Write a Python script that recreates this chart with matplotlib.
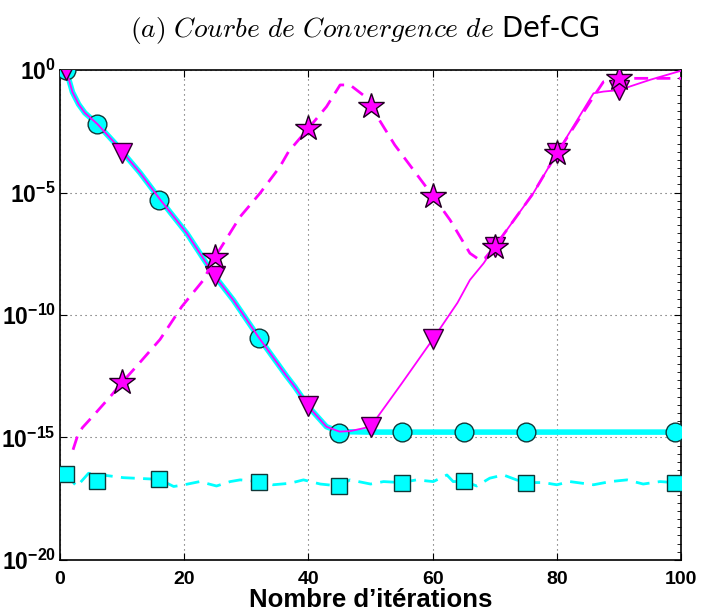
import numpy as np
import matplotlib
matplotlib.use("Agg")
import matplotlib.pyplot as plt
from matplotlib.ticker import FixedLocator, FuncFormatter

plt.rcParams['font.family'] = ['Liberation Sans', 'DejaVu Sans']
plt.rcParams['mathtext.fontset'] = 'custom'
plt.rcParams['mathtext.bf'] = 'Liberation Sans:bold'
plt.rcParams['mathtext.rm'] = 'Liberation Sans:bold'

# residual curves, exponents of 10
cg_it = [1, 2, 3, 4, 6, 8.9, 12.9, 16.1, 20.4, 25, 27.9, 31.9, 36.5, 37.8, 40, 42.9, 45,
         50, 60, 70, 80, 90, 100]
cg_exp = [0, -0.9, -1.4, -1.75, -2.2, -3.0, -4.2, -5.28, -6.66, -8.44, -9.39, -10.88, -12.5,
          -12.93, -13.74, -14.56, -14.76, -14.78, -14.78, -14.78, -14.78, -14.78, -14.78]
cg_mk_it = [1, 6, 16, 32, 45, 55, 65, 75, 99]
cg_mk_exp = [0, -2.2, -5.3, -10.94, -14.8, -14.78, -14.78, -14.78, -14.78]

def_it = [1, 2, 3, 4, 6, 8.9, 12.9, 16.1, 20.4, 25, 27.9, 31.9, 36.5, 37.8, 40, 42.9, 45,
          46.7, 50, 55, 60, 64, 66, 68.2, 70, 76.2, 80, 85.9, 87.5, 90, 95, 100]
def_exp = [0, -0.9, -1.4, -1.75, -2.2, -3.0, -4.2, -5.28, -6.66, -8.44, -9.39, -10.88, -12.5,
           -12.93, -13.74, -14.56, -14.76, -14.74, -14.56, -12.8, -11.0, -9.5, -8.57, -7.89,
           -7.21, -5.03, -3.4, -0.95, -0.88, -0.82, -0.4, -0.03]
def_mk_it = [1, 10, 25, 40, 50, 60, 70, 80, 90]
def_mk_exp = [0, -3.4, -8.4, -13.7, -14.56, -11.0, -7.22, -3.4, -0.82]

err_it = [2.1, 2.8, 3.6, 5.4, 8.3, 10, 12.3, 16.1, 19.6, 23.1, 25, 29, 32.2, 35.4, 36.8, 40,
          42.9, 45.1, 46.7, 48.8, 50, 53.9, 60, 62.8, 66, 67.6, 68.4, 70, 76.2, 80, 85.9,
          87.5, 90, 95, 100]
err_exp = [-15.5, -14.95, -14.6, -14.1, -13.27, -12.75, -12.1, -11.0, -9.66, -8.57, -7.62,
           -5.99, -5.03, -3.95, -3.33, -2.38, -1.5, -0.61, -0.61, -1.02, -1.46, -3.06, -5.13,
           -6.12, -7.48, -7.76, -7.69, -7.21, -5.03, -3.4, -1.09, -0.48, -0.34, -0.34, -0.34]
err_mk_it = [10, 25, 40, 50, 60, 70, 80, 90]
err_mk_exp = [-12.75, -7.62, -2.38, -1.46, -5.13, -7.21, -3.4, -0.34]

ortho_it = [1, 2.7, 4.6, 10.2, 16, 18.3, 20, 22.5, 25.2, 27.4, 29, 32, 34.3, 37, 39.2, 41.9,
            45, 46.7, 50, 52.1, 55, 57.4, 60.1, 62.3, 63.3, 65, 67.1, 69.2, 71.4, 73.5, 75,
            77.8, 80, 82.1, 85.9, 88.6, 91.3, 93.9, 96.6, 99, 100]
ortho_exp = [-16.49, -17.0, -16.46, -16.64, -16.71, -17.0, -16.93, -16.8, -16.98, -16.8,
             -16.73, -16.8, -16.93, -16.87, -16.73, -16.9, -16.98, -16.73, -16.9, -16.8,
             -16.84, -16.73, -16.8, -16.53, -16.8, -16.78, -16.98, -16.66, -16.53, -16.73,
             -16.84, -16.84, -16.93, -16.8, -16.93, -16.8, -16.73, -16.9, -16.8, -16.84, -16.84]
ortho_mk_it = [1, 6, 16, 32, 45, 55, 65, 75, 99]
ortho_mk_exp = [-16.49, -16.76, -16.71, -16.8, -16.98, -16.84, -16.78, -16.84, -16.84]

def p10(e):
    return 10.0 ** np.array(e)

fig = plt.figure(figsize=(7.01, 6.12), dpi=100)
ax = fig.add_axes([0.0856, 0.085, 0.886, 0.8006])

cyan = '#00ffff'
mag = '#ff00ff'
dash = (0, (5, 3))

# CG residual
ax.plot(cg_it, p10(cg_exp), color=cyan, lw=4, zorder=3)
ax.plot(cg_mk_it, p10(cg_mk_exp), ls='none', marker='o', ms=13.5, mfc=cyan, mec='#103838',
        mew=1.0, zorder=3)
# Def-CG residual
ax.plot(def_it, p10(def_exp), color=mag, lw=1.3, zorder=4)
ax.plot(def_mk_it, p10(def_mk_exp), ls='none', marker='v', ms=14, mfc=mag, mec='#300030',
        mew=1.0, zorder=4)
# error curve
ax.plot(err_it, p10(err_exp), color=mag, lw=2, ls=dash, zorder=5)
ax.plot(err_mk_it, p10(err_mk_exp), ls='none', marker='*', ms=19, mfc=mag, mec='#200020',
        mew=1.0, zorder=5)
# loss of orthogonality
ax.plot(ortho_it, p10(ortho_exp), color=cyan, lw=2, ls=dash, zorder=3)
ax.plot(ortho_mk_it, p10(ortho_mk_exp), ls='none', marker='s', ms=11, mfc=cyan,
        mec='#103838', mew=1.0, zorder=3)

ax.set_yscale('log')
ax.set_xlim(0, 100)
ax.set_ylim(1e-20, 1)
ax.set_xticks([0, 20, 40, 60, 80, 100])
ax.yaxis.set_major_locator(FixedLocator([1e-20, 1e-15, 1e-10, 1e-5, 1]))
ax.yaxis.set_minor_locator(FixedLocator(10.0 ** np.arange(-20, 0.01, 1 / 3)))
ax.yaxis.set_major_formatter(FuncFormatter(lambda v, p: r'$\mathbf{10^{%d}}$' % round(np.log10(v))))
ax.yaxis.set_minor_formatter(FuncFormatter(lambda v, p: ''))

ax.tick_params(axis='y', which='major', direction='in', length=5, labelsize=16.5, pad=3,
               right=True)
ax.tick_params(axis='y', which='minor', direction='in', length=3, left=False, right=True)
ax.tick_params(axis='x', which='major', direction='in', length=5, labelsize=14, pad=8,
               top=True)
for lab in ax.get_xticklabels():
    lab.set_fontweight('bold')

ax.grid(True, which='major', color='#555555', ls=(0, (1, 3.5)), lw=0.8)
for s in ax.spines.values():
    s.set_linewidth(1.2)

ax.set_xlabel('Nombre d’itérations', fontsize=18.5, fontweight='bold', labelpad=0)

fig.text(0.52, 0.952, r'$\mathit{(a)\ Courbe\ de\ Convergence\ de}$ Def-CG', fontsize=19.8,
         ha='center', va='center', math_fontfamily='cm', family='DejaVu Sans')

fig.savefig('out.png', dpi=100)
